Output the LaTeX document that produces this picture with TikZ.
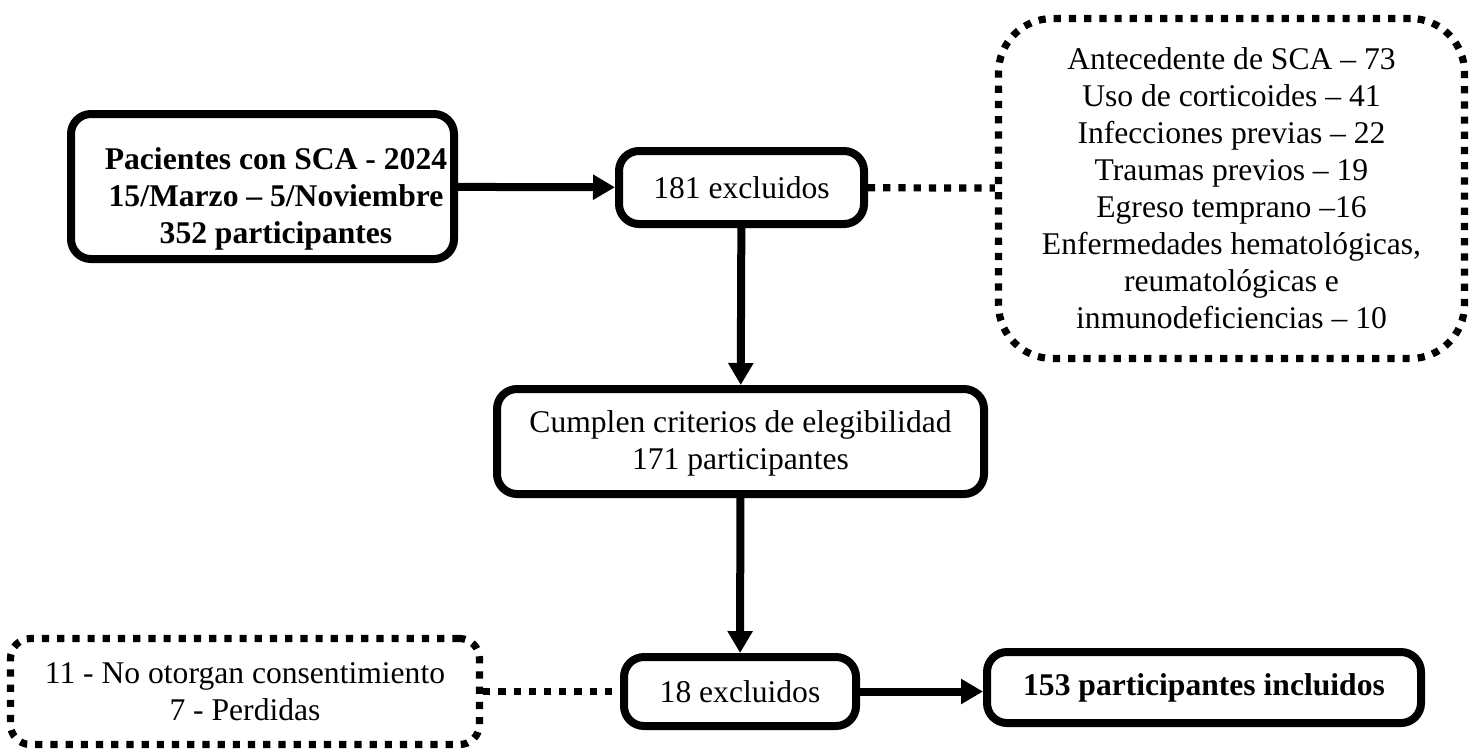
\documentclass[tikz,border=0pt]{standalone}
\usepackage{fontspec}
\setmainfont{Liberation Serif}
\usepackage{tikz}
\usetikzlibrary{arrows.meta}
\tikzstyle{caja} = [draw, line width=4pt, rounded corners=10pt, align=center, inner sep=0pt]
\tikzstyle{nota} = [draw, line width=3.6pt, dash pattern=on 3.6pt off 4pt, align=center, inner sep=0pt]
\tikzstyle{flecha} = [line width=4pt, -{Triangle[length=11pt,width=12pt]}]
\tikzstyle{enlace} = [line width=3.6pt, dash pattern=on 3.6pt off 4pt]

\begin{document}
\begin{tikzpicture}[x=0.5pt, y=-0.5pt, font=\fontsize{15.8}{18.5}\selectfont]
  \useasboundingbox (0,0) rectangle (1481,752);

  % main flow boxes
  \node[caja, minimum width=191.5pt, minimum height=72.5pt] (pac) at (262.5,186.5)
    {\hspace*{13.5pt}\begin{tabular}{@{}c@{}}\rule{0pt}{25.5pt}\textbf{Pacientes con SCA - 2024}\\
     \textbf{15/Marzo – 5/Noviembre}\\ \textbf{352 participantes}\end{tabular}};
  \node[caja, minimum width=122.5pt, minimum height=36.5pt] (exc1) at (741.5,187.5) {181 excluidos};
  \node[caja, minimum width=243.5pt, minimum height=52.5pt, text depth=1pt] (crit) at (740.5,441.5)
    {Cumplen criterios de elegibilidad\\ 171 participantes};
  \node[caja, minimum width=116pt, minimum height=34.5pt] (exc2) at (740,691.5) {18 excluidos};
  \node[caja, minimum width=217pt, minimum height=35.5pt] (incl) at (1204,687.5)
    {\textbf{153 participantes incluidos}};

  % exclusion details (dotted)
  \node[nota, rounded corners=27pt, minimum width=233pt, minimum height=170pt] (lista) at (1231.5,188.5)
    {Antecedente de SCA – 73\\ Uso de corticoides – 41\\ Infecciones previas – 22\\
     Traumas previos – 19\\ Egreso temprano –16\\ Enfermedades hematológicas,\\
     reumatológicas e\\ inmunodeficiencias – 10};
  \node[nota, rounded corners=10pt, minimum width=234.5pt, minimum height=53pt] (perd) at (245,691.5)
    {11 - No otorgan consentimiento\\ 7 - Perdidas};

  % connectors
  \draw[flecha] (pac) -- (exc1);
  \draw[flecha] (exc1) -- (crit);
  \draw[flecha] (crit) -- (exc2);
  \draw[flecha] (exc2) -- (exc2 -| incl.west);
  \draw[enlace] (exc1) -- (lista);
  \draw[enlace] (perd) -- (exc2);

\end{tikzpicture}
\end{document}
